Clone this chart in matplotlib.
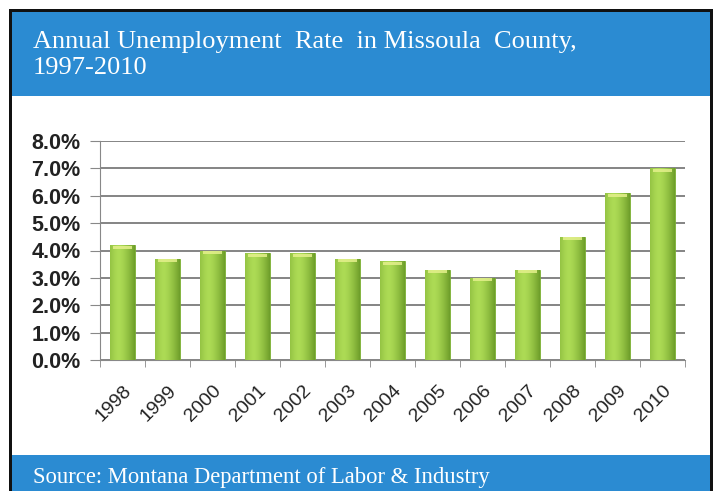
import numpy as np
import matplotlib
matplotlib.use('Agg')
import matplotlib.pyplot as plt
from matplotlib.patches import Rectangle
from matplotlib.ticker import FuncFormatter
from matplotlib.transforms import ScaledTranslation

# data
years = ['1998', '1999', '2000', '2001', '2002', '2003', '2004',
         '2005', '2006', '2007', '2008', '2009', '2010']
rates = [4.2, 3.7, 4.0, 3.9, 3.9, 3.7, 3.6, 3.3, 3.0, 3.3, 4.5, 6.1, 7.0]

title = 'Annual Unemployment  Rate  in Missoula  County,\n1997-2010'
source = 'Source: Montana Department of Labor & Industry'

blue = '#2B8BD2'
W, H = 718, 491

fig = plt.figure(figsize=(7.18, 4.91), dpi=100)
fig.patch.set_facecolor('white')

def box(x0, y0, x1, y1, **kw):
    # pixel coords from top-left
    fig.patches.append(Rectangle((x0 / W, 1 - y1 / H), (x1 - x0) / W, (y1 - y0) / H,
                                 transform=fig.transFigure, figure=fig,
                                 zorder=-10, **kw))

box(9, 9, 713, 495, facecolor='#111111', edgecolor='none')
box(12, 12, 710, 495, facecolor='white', edgecolor='none')
box(12, 12, 710, 96, facecolor=blue, edgecolor='none')
box(12, 455, 710, 495, facecolor=blue, edgecolor='none')

fig.text(33 / W, 1 - 55 / H, title, color='white', family='Liberation Serif',
         fontsize=19, ha='left', va='center', linespacing=1.25)
fig.text(33 / W, 1 - 478 / H, source, color='white', family='Liberation Serif',
         fontsize=16.3, ha='left', va='center')

ax = fig.add_axes([100 / W, 1 - 360 / H, 585 / W, 219 / H])
ax.set_facecolor('none')
ax.set_zorder(5)
x = np.arange(len(years))
bars = ax.bar(x, rates, width=0.55, color='#8CC43C', edgecolor='#7AAE32',
              linewidth=0.6, zorder=3)

# cylinder-like shading
grad = np.linspace(0, 1, 64)
shade = 1 - 0.55 * (np.abs(grad - 0.35) / 0.65) ** 1.5
cmap = matplotlib.colors.LinearSegmentedColormap.from_list(
    'g', ['#6E9E2A', '#ADDB55'])
for b in bars:
    bx, bw, bh = b.get_x(), b.get_width(), b.get_height()
    im = ax.imshow(shade[np.newaxis, :], cmap=cmap, vmin=0.45, vmax=1,
                   extent=[bx, bx + bw, 0, bh], aspect='auto', zorder=4)
    im.set_clip_path(b)
    ax.add_patch(Rectangle((bx + bw * 0.12, bh - 0.13), bw * 0.76, 0.11,
                           facecolor='#E4F08C', edgecolor='none', alpha=0.85,
                           zorder=5))

ax.set_xlim(-0.5, len(years) - 0.5)
ax.set_ylim(0, 8)
ax.set_yticks(np.arange(0, 8.1, 1))
ax.yaxis.set_major_formatter(FuncFormatter(lambda v, p: '%.1f%%' % v))
ax.grid(axis='y', color='#6F6F6F', linewidth=1.2, zorder=1)
ax.set_xticks(x)
ax.set_xticklabels(years, rotation=45, ha='right', rotation_mode='anchor',
                   family='Liberation Sans', fontsize=14, color='#222222')
shift = ScaledTranslation(-5 / 100, -4 / 100, fig.dpi_scale_trans)
for lab in ax.get_xticklabels():
    lab.set_transform(lab.get_transform() + shift)
ax.set_xticks(np.arange(-0.5, len(years)), minor=True)
ax.tick_params(axis='x', which='major', length=0, pad=16)
ax.tick_params(axis='x', which='minor', length=5, color='#888888')
ax.tick_params(axis='y', length=7, color='#888888', pad=7)
for lab in ax.get_yticklabels():
    lab.set_family('Liberation Sans')
    lab.set_fontweight('bold')
    lab.set_fontsize(15.5)
    lab.set_color('#222222')
for s in ['top', 'right']:
    ax.spines[s].set_visible(False)
ax.spines['left'].set_color('#888888')
ax.spines['bottom'].set_color('#888888')

fig.savefig('out.png', dpi=100)
